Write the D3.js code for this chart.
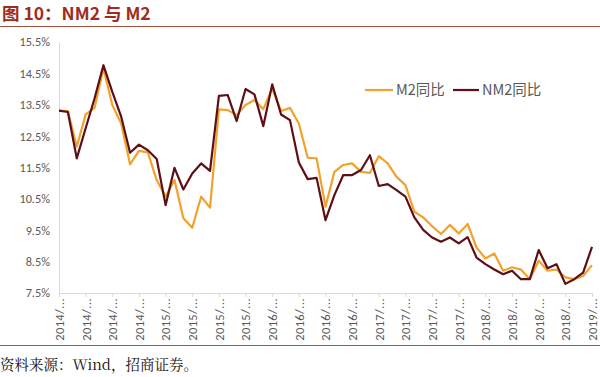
<!DOCTYPE html>
<html>
<head>
<meta charset="utf-8">
<script src="https://cdn.jsdelivr.net/npm/d3@7"></script>
<style>
  body { margin: 0; background: #fff; }
  svg { display: block; }
</style>
</head>
<body>
<div id="chart"></div>
<script>
// NM2 vs M2, monthly 2014/01 - 2019/01 (yoy %)
var months = [];
for (var y = 2014; y <= 2019; y++) {
  for (var m = 1; m <= 12; m++) {
    if (y === 2019 && m > 1) break;
    months.push(y + "/" + (m < 10 ? "0" + m : m));
  }
}

var m2 = [13.31, 13.30, 12.16, 13.19, 13.40, 14.66, 13.49, 12.90, 11.60, 12.03, 11.98, 11.10,
          10.57, 11.10, 9.88, 9.58, 10.57, 10.22, 13.35, 13.33, 13.17, 13.49, 13.65, 13.36,
          14.02, 13.30, 13.40, 12.90, 11.81, 11.79, 10.25, 11.36, 11.58, 11.63, 11.36, 11.33,
          11.86, 11.63, 11.20, 10.94, 10.09, 9.91, 9.63, 9.38, 9.67, 9.40, 9.70, 8.95,
          8.60, 8.76, 8.21, 8.32, 8.25, 7.94, 8.53, 8.21, 8.25, 8.00, 7.94, 8.04, 8.39];

var nm2 = [13.31, 13.27, 11.79, 12.75, 13.70, 14.76, 13.91, 13.12, 11.97, 12.23, 12.05, 11.77,
           10.30, 11.49, 10.80, 11.31, 11.63, 11.39, 13.78, 13.81, 12.98, 14.00, 13.83, 12.82,
           14.15, 13.19, 13.01, 11.66, 11.13, 11.17, 9.82, 10.62, 11.26, 11.26, 11.42, 11.89,
           10.91, 10.97, 10.78, 10.57, 9.91, 9.51, 9.27, 9.13, 9.27, 9.08, 9.28, 8.63,
           8.42, 8.25, 8.10, 8.21, 7.94, 7.94, 8.87, 8.29, 8.42, 7.79, 7.94, 8.15, 8.97];

var yTicks = [7.5, 8.5, 9.5, 10.5, 11.5, 12.5, 13.5, 14.5, 15.5];
var seriesNames = ["M2同比", "NM2同比"];
var seriesColors = ["#F2A22C", "#5E0F16"];

var width = 600, height = 377;
var margin = {top: 42, right: 8, bottom: 84, left: 59};

var svg = d3.select("#chart").append("svg")
  .attr("width", width)
  .attr("height", height);

// Title and rules
svg.append("text")
  .attr("x", 2)
  .attr("y", 20)
  .attr("fill", "#A02B1E")
  .attr("font-family", "'Noto Sans CJK SC', sans-serif")
  .attr("font-size", 17.5)
  .attr("font-weight", "bold")
  .text("图 10：NM2 与 M2");
svg.append("line")
  .attr("x1", 0).attr("x2", width)
  .attr("y1", 26.5).attr("y2", 26.5)
  .attr("stroke", "#A8543C").attr("stroke-width", 1.2);
svg.append("line")
  .attr("x1", 0).attr("x2", width)
  .attr("y1", 345.5).attr("y2", 345.5)
  .attr("stroke", "#A8543C").attr("stroke-width", 1.2);
svg.append("text")
  .attr("x", 0)
  .attr("y", 370)
  .attr("fill", "#111")
  .attr("font-family", "'Noto Serif CJK SC', 'Noto Sans CJK SC', serif")
  .attr("font-size", 14.5)
  .text("资料来源：Wind，招商证券。");

// Scales
var plotW = 592 - margin.left;
var xScale = d3.scalePoint()
  .domain(months)
  .range([0, plotW]);
var yScale = d3.scaleLinear()
  .domain([7.5, 15.5])
  .range([293 - margin.top, 0]);

var plot = svg.append("g")
  .attr("transform", "translate(" + margin.left + "," + margin.top + ")");

// Axes
var yAxis = d3.axisLeft(yScale)
  .tickValues(yTicks)
  .tickSize(0)
  .tickPadding(9)
  .tickFormat(function(d) { return d.toFixed(1) + "%"; });
var gy = plot.append("g").call(yAxis);
gy.select(".domain").attr("stroke", "#D9D9D9");
gy.selectAll("text")
  .attr("fill", "#595959")
  .attr("font-family", "Calibri, 'Open Sans', sans-serif")
  .attr("font-size", 12.3);

var xTickVals = months.filter(function(d, i) { return i % 3 === 0; });
var xAxis = d3.axisBottom(xScale)
  .tickValues(xTickVals)
  .tickSize(4)
  .tickFormat(function(d) { return d.slice(0, 5) + "..."; });
var gx = plot.append("g")
  .attr("transform", "translate(0," + yScale(7.5) + ")")
  .call(xAxis);
gx.select(".domain").attr("stroke", "#D9D9D9");
gx.selectAll(".tick line").attr("stroke", "#D9D9D9");
gx.selectAll("text")
  .attr("fill", "#595959")
  .attr("font-family", "Calibri, 'Open Sans', sans-serif")
  .attr("font-size", 12.5)
  .attr("letter-spacing", 0.4)
  .attr("text-anchor", "end")
  .attr("transform", "rotate(-90)")
  .attr("x", -5)
  .attr("y", 0)
  .attr("dy", "0.35em");

// Lines
var line = d3.line()
  .x(function(d, i) { return xScale(months[i]); })
  .y(function(d) { return yScale(d); });

[m2, nm2].forEach(function(s, k) {
  plot.append("path")
    .datum(s)
    .attr("fill", "none")
    .attr("stroke", seriesColors[k])
    .attr("stroke-width", 2.2)
    .attr("stroke-linejoin", "round")
    .attr("d", line);
});

// Legend
var legendPos = [{x: 365, tx: 396}, {x: 453, tx: 482}];
seriesNames.forEach(function(name, k) {
  svg.append("line")
    .attr("x1", legendPos[k].x).attr("x2", legendPos[k].tx - 3)
    .attr("y1", 90).attr("y2", 90)
    .attr("stroke", seriesColors[k]).attr("stroke-width", 2.2);
  svg.append("text")
    .attr("x", legendPos[k].tx)
    .attr("y", 90)
    .attr("dy", "0.35em")
    .attr("fill", "#595959")
    .attr("font-family", "'Noto Sans CJK SC', sans-serif")
    .attr("font-size", 14.5)
    .text(name);
});
</script>
</body>
</html>
